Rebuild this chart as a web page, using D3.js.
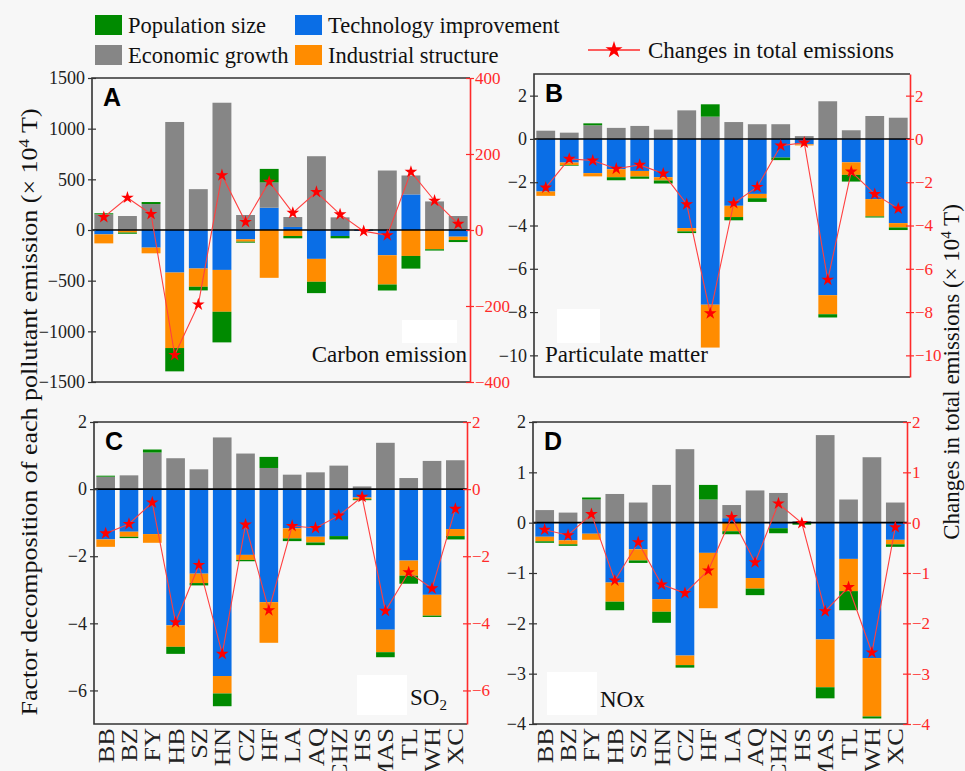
<!DOCTYPE html>
<html>
<head>
<meta charset="utf-8">
<script src="https://cdn.jsdelivr.net/npm/d3@7"></script>
<style>
  html, body { margin: 0; padding: 0; background: #f7f7f7; }
  svg { display: block; }
</style>
</head>
<body>
<svg id="chart" width="965" height="771"></svg>
<script>
// ---------------- DATA ----------------
const categories = ["BB","BZ","FY","HB","SZ","HN","CZ","HF","LA","AQ","CHZ","HS","MAS","TL","WH","XC"];

// Panel A: Carbon emission
const carbonPopulation = [10, -12, 20, -230, -36, -302, -10, 134, -23, -112, -23, 0, -59, -125, -13, -20];
const carbonEconomic   = [155, 138, 256, 1066, 403, 1256, 148, 249, 98, 728, 125, 5, 587, 187, 282, 138];
const carbonTechnology = [-43, -5, -174, -420, -380, -394, -92, 220, 30, -285, -59, -8, -249, 351, 0, -66];
const carbonIndustrial = [-89, -20, -56, -745, -180, -413, -23, -472, -59, -226, 0, 0, -289, -256, -190, -33];
const carbonTotal      = [34, 85, 42, -329, -196, 144, 21, 127, 45, 100, 41, -3, -14, 153, 77, 16];

// Panel B: Particulate matter
const pmPopulation = [0, -0.03, 0.09, -0.14, -0.1, -0.14, -0.08, 0.57, -0.15, -0.17, -0.12, 0, -0.15, -0.31, -0.05, -0.12];
const pmEconomic   = [0.38, 0.29, 0.63, 0.51, 0.6, 0.43, 1.32, 1.03, 0.78, 0.68, 0.68, 0.13, 1.74, 0.4, 1.06, 0.98];
const pmTechnology = [-2.43, -1.09, -1.58, -1.4, -1.48, -1.77, -4.12, -7.66, -3.09, -2.54, -0.86, -0.25, -7.22, -1.08, -2.78, -3.89];
const pmIndustrial = [-0.2, -0.12, -0.15, -0.37, -0.26, -0.15, -0.15, -1.98, -0.52, -0.2, 0, -0.05, -0.88, -0.58, -0.8, -0.2];
const pmTotal      = [-2.25, -0.92, -1.0, -1.38, -1.2, -1.6, -3.02, -8.06, -2.97, -2.22, -0.31, -0.17, -6.51, -1.51, -2.55, -3.22];

// Panel C: SO2
const so2Population = [0.03, -0.04, 0.09, -0.21, -0.07, -0.38, -0.04, 0.33, -0.08, -0.08, -0.1, -0.03, -0.15, -0.24, -0.04, -0.1];
const so2Economic   = [0.37, 0.41, 1.09, 0.92, 0.59, 1.54, 1.06, 0.63, 0.43, 0.5, 0.7, 0.08, 1.38, 0.33, 0.84, 0.86];
const so2Technology = [-1.5, -1.27, -1.34, -4.06, -2.52, -5.57, -1.96, -3.37, -1.17, -1.42, -1.4, -0.25, -4.19, -2.13, -3.15, -1.19];
const so2Industrial = [-0.22, -0.15, -0.26, -0.64, -0.28, -0.52, -0.15, -1.21, -0.3, -0.17, 0, -0.05, -0.67, -0.45, -0.62, -0.21];
const so2Total      = [-1.32, -1.04, -0.4, -3.97, -2.26, -4.91, -1.06, -3.61, -1.1, -1.16, -0.79, -0.23, -3.63, -2.48, -2.96, -0.59];

// Panel D: NOx
const noxPopulation = [-0.03, -0.03, 0.04, -0.17, -0.05, -0.22, -0.05, 0.29, -0.06, -0.13, -0.1, -0.04, -0.22, -0.38, -0.04, -0.05];
const noxEconomic   = [0.25, 0.2, 0.46, 0.57, 0.4, 0.75, 1.46, 0.46, 0.26, 0.64, 0.59, 0.03, 1.74, 0.46, 1.3, 0.4];
const noxTechnology = [-0.28, -0.35, -0.22, -1.19, -0.53, -1.52, -2.64, -0.6, 0.09, -1.1, -0.11, 0, -2.32, -0.72, -2.69, -0.34];
const noxIndustrial = [-0.09, -0.08, -0.12, -0.38, -0.22, -0.25, -0.19, -1.1, -0.17, -0.21, 0, 0, -0.95, -0.64, -1.16, -0.09];
const noxTotal      = [-0.14, -0.25, 0.17, -1.15, -0.39, -1.23, -1.4, -0.95, 0.11, -0.79, 0.38, -0.01, -1.76, -1.28, -2.58, -0.09];

const seriesNames = ["Population size", "Economic growth", "Technology improvement", "Industrial structure"];
const lineName = "Changes in total emissions";

const carbonTicks = [-1500, -1000, -500, 0, 500, 1000, 1500];
const carbonRightTicks = [-400, -200, 0, 200, 400];
const pmTicks = [-10, -8, -6, -4, -2, 0, 2];
const so2Ticks = [-6, -4, -2, 0, 2];
const noxTicks = [-4, -3, -2, -1, 0, 1, 2];

// ---------------- STYLE ----------------
const colors = { tech: "#0a6ee6", ind: "#ff8c00", econ: "#868686", pop: "#008a00" };
const red = "#ff2a2a";
const serif = "'Liberation Serif','Times New Roman',serif";
const sans = "'Liberation Sans',Arial,sans-serif";

const svg = d3.select("#chart");
svg.append("rect").attr("width", 965).attr("height", 771).attr("fill", "#f7f7f7");

const panels = [
  { letter: "A", x0: 92, x1: 470, y0: 78, y1: 382, dom: [-1500, 1500], rdom: [-400, 400],
    ticks: carbonTicks, rticks: carbonRightTicks,
    pop: carbonPopulation, econ: carbonEconomic, tech: carbonTechnology, ind: carbonIndustrial, total: carbonTotal,
    name: "Carbon emission", nameX: 467, nameY: 362, anchor: "end", box: [402, 320, 55, 23], xlabels: false },
  { letter: "B", x0: 534, x1: 910, y0: 74, y1: 377, dom: [-11, 3], rdom: [-11, 3],
    ticks: pmTicks, rticks: pmTicks,
    pop: pmPopulation, econ: pmEconomic, tech: pmTechnology, ind: pmIndustrial, total: pmTotal,
    name: "Particulate matter", nameX: 545, nameY: 362, anchor: "start", box: [557, 309, 43, 34], xlabels: false },
  { letter: "C", x0: 94, x1: 467, y0: 422, y1: 724, dom: [-7, 2], rdom: [-7, 2],
    ticks: so2Ticks, rticks: so2Ticks,
    pop: so2Population, econ: so2Economic, tech: so2Technology, ind: so2Industrial, total: so2Total,
    name: "SO2", nameX: 410, nameY: 705, anchor: "start", box: [357, 675, 50, 40], xlabels: true },
  { letter: "D", x0: 533, x1: 907, y0: 422, y1: 724, dom: [-4, 2], rdom: [-4, 2],
    ticks: noxTicks, rticks: noxTicks,
    pop: noxPopulation, econ: noxEconomic, tech: noxTechnology, ind: noxIndustrial, total: noxTotal,
    name: "NOx", nameX: 600, nameY: 707, anchor: "start", box: [547, 672, 50, 43], xlabels: true }
];

const keys = ["tech", "ind", "econ", "pop"];

panels.forEach(p => {
  const g = svg.append("g");
  const x = d3.scaleBand().domain(categories).range([p.x0, p.x1]).paddingInner(0.2).paddingOuter(0.1);
  const y = d3.scaleLinear().domain(p.dom).range([p.y1, p.y0]);
  const yr = d3.scaleLinear().domain(p.rdom).range([p.y1, p.y0]);

  // white patches
  g.append("rect").attr("x", p.box[0]).attr("y", p.box[1]).attr("width", p.box[2]).attr("height", p.box[3]).attr("fill", "#ffffff");

  const rows = categories.map((c, i) => ({ cat: c, tech: p.tech[i], ind: p.ind[i], econ: p.econ[i], pop: p.pop[i] }));
  const stacked = d3.stack().keys(keys).offset(d3.stackOffsetDiverging)(rows);

  stacked.forEach(s => {
    g.append("g").selectAll("rect").data(s).join("rect")
      .attr("x", d => x(d.data.cat))
      .attr("width", x.bandwidth())
      .attr("y", d => y(Math.max(d[0], d[1])))
      .attr("height", d => Math.abs(y(d[0]) - y(d[1])))
      .attr("fill", colors[s.key]);
  });

  // zero line
  g.append("line").attr("x1", p.x0).attr("x2", p.x1).attr("y1", y(0)).attr("y2", y(0))
    .attr("stroke", "#000").attr("stroke-width", 1.6);

  // frame
  g.append("path").attr("d", `M${p.x1},${p.y0}H${p.x0}V${p.y1}H${p.x1}`)
    .attr("fill", "none").attr("stroke", "#333").attr("stroke-width", 1.6);

  // left axis
  const la = g.append("g").attr("transform", `translate(${p.x0},0)`)
    .call(d3.axisLeft(y).tickValues(p.ticks).tickSize(0).tickPadding(7).tickFormat(d3.format("d")));
  la.select(".domain").remove();
  la.selectAll("text").attr("font-family", serif).attr("font-size", 18).attr("fill", "#222");
  la.selectAll(".tick").append("line").attr("x1", -4).attr("x2", 4).attr("stroke", "#333").attr("stroke-width", 1.2);

  // right axis
  const ra = g.append("g").attr("transform", `translate(${p.x1},0)`)
    .call(d3.axisRight(yr).tickValues(p.rticks).tickSize(0).tickPadding(5).tickFormat(d3.format("d")));
  ra.select(".domain").attr("stroke", red).attr("stroke-width", 1.6);
  ra.selectAll("text").attr("font-family", serif).attr("font-size", 17).attr("fill", red);
  ra.selectAll(".tick").append("line").attr("x1", -4).attr("x2", 4).attr("stroke", red).attr("stroke-width", 1.2);

  // x labels
  if (p.xlabels) {
    g.selectAll("text.cat").data(categories).join("text")
      .attr("class", "cat")
      .attr("transform", d => `translate(${x(d) + x.bandwidth() / 2},${p.y1 + 4}) rotate(-90) scale(1.15,1)`)
      .attr("text-anchor", "end").attr("dy", "0.35em")
      .attr("font-family", serif).attr("font-size", 23).attr("fill", "#222")
      .text(d => d);
  }

  // total line
  const line = d3.line().x((d, i) => x(categories[i]) + x.bandwidth() / 2).y(d => yr(d));
  g.append("path").attr("d", line(p.total)).attr("fill", "none").attr("stroke", "#ff4040").attr("stroke-width", 1.1);
  g.selectAll("path.star").data(p.total).join("path")
    .attr("class", "star")
    .attr("transform", (d, i) => `translate(${x(categories[i]) + x.bandwidth() / 2},${yr(d)})`)
    .attr("d", d3.symbol(d3.symbolStar, 50))
    .attr("fill", "#ff0000");

  // panel letter
  g.append("text").attr("x", p.x0 + 11).attr("y", p.y0 + 28)
    .attr("font-family", sans).attr("font-weight", "bold").attr("font-size", 25).attr("fill", "#000")
    .text(p.letter);

  // panel name
  const nt = g.append("text").attr("x", p.nameX).attr("y", p.nameY).attr("text-anchor", p.anchor)
    .attr("font-family", serif).attr("font-size", 23).attr("fill", "#111");
  if (p.name === "SO2") {
    nt.append("tspan").text("SO");
    nt.append("tspan").attr("font-size", 15).attr("dy", 5).text("2");
  } else {
    nt.text(p.name);
  }
});

// legend
const legendItems = [
  { key: "pop", name: seriesNames[0], x: 95, y: 15 },
  { key: "econ", name: seriesNames[1], x: 95, y: 45 },
  { key: "tech", name: seriesNames[2], x: 295, y: 15 },
  { key: "ind", name: seriesNames[3], x: 295, y: 45 }
];
const lg = svg.append("g");
legendItems.forEach(it => {
  lg.append("rect").attr("x", it.x).attr("y", it.y).attr("width", 27).attr("height", 20).attr("fill", colors[it.key]);
  lg.append("text").attr("x", it.x + 33).attr("y", it.y + 18)
    .attr("font-family", serif).attr("font-size", 22.5).attr("fill", "#111").text(it.name);
});
lg.append("line").attr("x1", 588).attr("x2", 640).attr("y1", 50).attr("y2", 50).attr("stroke", red).attr("stroke-width", 1.5);
lg.append("path").attr("transform", "translate(614,50)").attr("d", d3.symbol(d3.symbolStar, 90)).attr("fill", "#ff0000");
lg.append("text").attr("x", 648).attr("y", 58).attr("font-family", serif).attr("font-size", 23).attr("fill", "#111").text(lineName);

// axis titles
const lt = svg.append("text").attr("transform", "translate(37,412) rotate(-90) scale(1.13,1)").attr("text-anchor", "middle")
  .attr("font-family", serif).attr("font-size", 23).attr("fill", "#111");
lt.append("tspan").text("Factor decomposition of each pollutant emission (× 10");
lt.append("tspan").attr("font-size", 15).attr("dy", -8).text("4");
lt.append("tspan").attr("dy", 8).text(" T)");

const rt = svg.append("text").attr("transform", "translate(959,372) rotate(-90)").attr("text-anchor", "middle")
  .attr("font-family", serif).attr("font-size", 23).attr("fill", "#111");
rt.append("tspan").text("Changes in total emissions (× 10");
rt.append("tspan").attr("font-size", 15).attr("dy", -8).text("4");
rt.append("tspan").attr("dy", 8).text(" T)");
</script>
</body>
</html>
